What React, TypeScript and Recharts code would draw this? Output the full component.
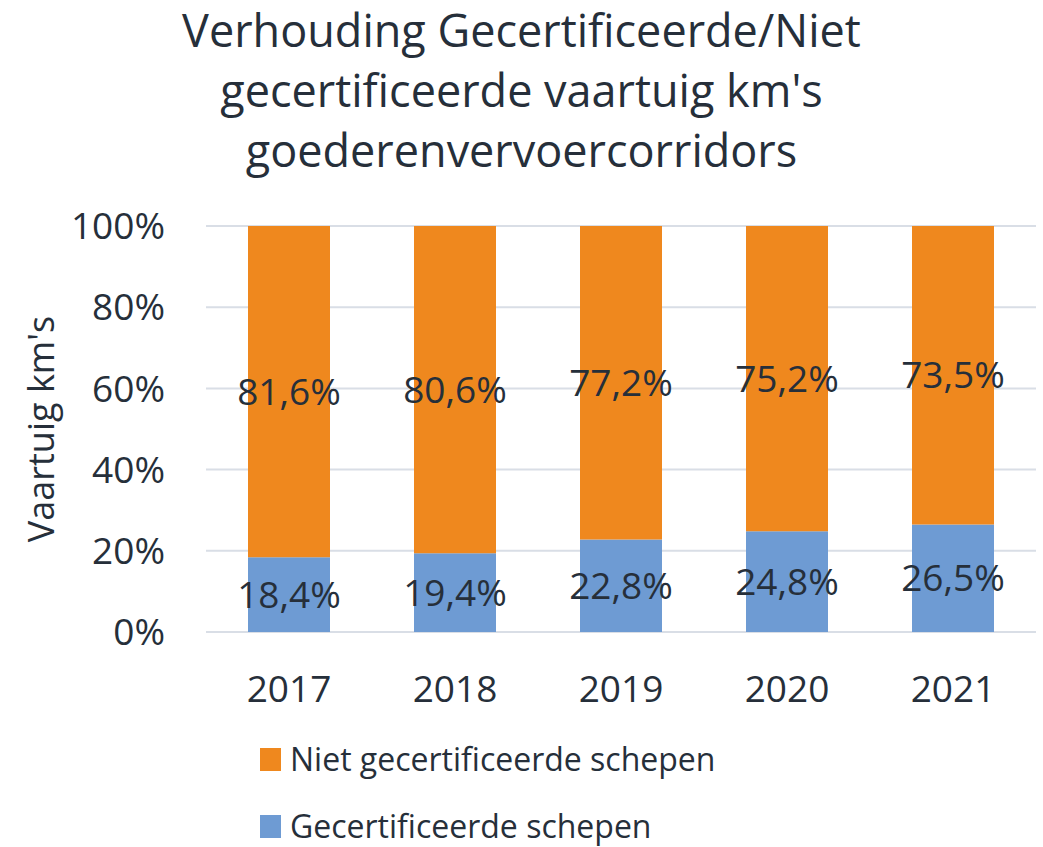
import { BarChart, Bar, XAxis, YAxis, CartesianGrid, LabelList, Label } from 'recharts';

const years = ['2017', '2018', '2019', '2020', '2021'];
const gecertificeerd = [18.4, 19.4, 22.8, 24.8, 26.5];
const nietGecertificeerd = [81.6, 80.6, 77.2, 75.2, 73.5];
const yTicks = [0, 20, 40, 60, 80, 100];

const FONT = '"Open Sans", sans-serif';
const TEXT = '#262f3a';
const ORANGE = '#ef881e';
const BLUE = '#6e9bd3';

const data = years.map((year, i) => ({
  year,
  gecertificeerd: gecertificeerd[i],
  niet: nietGecertificeerd[i],
}));

const fmt = (v: number) => v.toFixed(1).replace('.', ',') + '%';

const legendItems = [
  { name: 'Niet gecertificeerde schepen', color: ORANGE },
  { name: 'Gecertificeerde schepen', color: BLUE },
];

const titleLines = ['Verhouding Gecertificeerde/Niet', "gecertificeerde vaartuig km's", 'goederenvervoercorridors'];

function ChartLegend() {
  return (
    <div style={{ position: 'absolute', left: 260, top: 742, fontFamily: FONT, color: TEXT, fontSize: 32 }}>
      {legendItems.map((item) => (
        <div key={item.name} style={{ display: 'flex', alignItems: 'center', height: 34, marginBottom: 33 }}>
          <span style={{ width: 21, height: 23, background: item.color, marginRight: 9, flexShrink: 0 }} />
          <span style={{ lineHeight: '34px', whiteSpace: 'nowrap' }}>{item.name}</span>
        </div>
      ))}
    </div>
  );
}

export default function App() {
  return (
    <div style={{ position: 'absolute', left: 0, top: 0, width: 1043, height: 847, background: '#fff', fontFamily: FONT }}>
      <div
        style={{
          position: 'absolute',
          left: 0,
          top: 0,
          width: 1043,
          textAlign: 'center',
          fontSize: 45,
          lineHeight: '60px',
          color: TEXT,
        }}
      >
        {titleLines.map((line) => (
          <div key={line} style={{ whiteSpace: 'nowrap' }}>{line}</div>
        ))}
      </div>
      <BarChart
        width={1043}
        height={847}
        data={data}
        margin={{ top: 226, right: 7, bottom: 185, left: 0 }}
        style={{ position: 'absolute', left: 0, top: 0 }}
      >
        <CartesianGrid vertical={false} stroke="#d9dee6" strokeWidth={2} />
        <XAxis
          dataKey="year"
          height={30}
          axisLine={false}
          tickLine={false}
          tickSize={0}
          tickMargin={44}
          tick={{ fill: TEXT, fontSize: 37, fontFamily: FONT }}
        />
        <YAxis
          width={206}
          domain={[0, 100]}
          ticks={yTicks}
          axisLine={false}
          tickLine={false}
          tickSize={0}
          tickMargin={41}
          tickFormatter={(v: number) => v + '%'}
          tick={{ fill: TEXT, fontSize: 37, fontFamily: FONT }}
        >
          <Label
            value="Vaartuig km's"
            angle={-90}
            position="insideLeft"
            offset={41}
            style={{ fill: TEXT, fontSize: 36, fontFamily: FONT, textAnchor: 'middle' }}
          />
        </YAxis>
        <Bar dataKey="gecertificeerd" stackId="a" fill={BLUE} barSize={82} isAnimationActive={false}>
          <LabelList dataKey="gecertificeerd" position="center" formatter={fmt} fill={TEXT} fontSize={37} fontFamily={FONT} />
        </Bar>
        <Bar dataKey="niet" stackId="a" fill={ORANGE} barSize={82} isAnimationActive={false}>
          <LabelList dataKey="niet" position="center" formatter={fmt} fill={TEXT} fontSize={37} fontFamily={FONT} />
        </Bar>
      </BarChart>
      <ChartLegend />
    </div>
  );
}
